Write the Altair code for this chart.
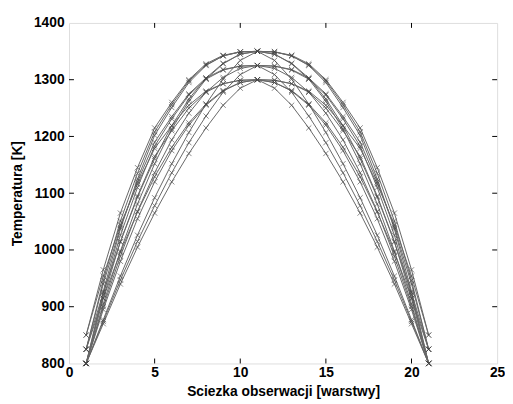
import altair as alt
import pandas as pd

x_positions = list(range(1, 22))

# Temperature profiles [K] along observation path (layers 1..21)
series = {
    "s01": [850, 965, 1065, 1145, 1215, 1260, 1300, 1328, 1343, 1349, 1350, 1349, 1343, 1328, 1300, 1260, 1215, 1145, 1065, 965, 850],
    "s02": [825, 946, 1051, 1135, 1208, 1256, 1298, 1326, 1342, 1349, 1350, 1349, 1342, 1326, 1298, 1256, 1208, 1135, 1051, 946, 825],
    "s03": [800, 905, 998, 1081, 1152, 1213, 1262, 1301, 1328, 1345, 1350, 1345, 1328, 1301, 1262, 1213, 1152, 1081, 998, 905, 800],
    "s04": [800, 877, 954, 1026, 1092, 1152, 1207, 1257, 1301, 1334, 1350, 1334, 1301, 1257, 1207, 1152, 1092, 1026, 954, 877, 800],
    "s05": [825, 940, 1040, 1120, 1190, 1235, 1275, 1303, 1318, 1324, 1325, 1324, 1318, 1303, 1275, 1235, 1190, 1120, 1040, 940, 825],
    "s06": [800, 900, 989, 1068, 1136, 1194, 1241, 1278, 1304, 1320, 1325, 1320, 1304, 1278, 1241, 1194, 1136, 1068, 989, 900, 800],
    "s07": [800, 874, 947, 1015, 1078, 1136, 1189, 1236, 1278, 1309, 1325, 1309, 1278, 1236, 1189, 1136, 1078, 1015, 947, 874, 800],
    "s08": [850, 954, 1044, 1116, 1179, 1219, 1255, 1280, 1293, 1299, 1300, 1299, 1293, 1280, 1255, 1219, 1179, 1116, 1044, 954, 850],
    "s09": [800, 895, 980, 1055, 1120, 1175, 1220, 1255, 1280, 1295, 1300, 1295, 1280, 1255, 1220, 1175, 1120, 1055, 980, 895, 800],
    "s10": [800, 870, 940, 1005, 1065, 1120, 1170, 1215, 1255, 1285, 1300, 1285, 1255, 1215, 1170, 1120, 1065, 1005, 940, 870, 800],
    "s11": [825, 925, 1014, 1093, 1161, 1219, 1266, 1303, 1329, 1345, 1350, 1345, 1329, 1303, 1266, 1219, 1161, 1093, 1014, 925, 825],
    "s12": [800, 927, 1037, 1125, 1202, 1251, 1295, 1325, 1342, 1349, 1350, 1349, 1342, 1325, 1295, 1251, 1202, 1125, 1037, 927, 800],
    "s13": [800, 915, 1015, 1095, 1165, 1210, 1250, 1278, 1293, 1299, 1300, 1299, 1293, 1278, 1250, 1210, 1165, 1095, 1015, 915, 800],
    "s14": [825, 915, 996, 1067, 1129, 1181, 1224, 1257, 1281, 1295, 1300, 1295, 1281, 1257, 1224, 1181, 1129, 1067, 996, 915, 825],
    "s15": [800, 921, 1026, 1110, 1183, 1231, 1273, 1301, 1317, 1324, 1325, 1324, 1317, 1301, 1273, 1231, 1183, 1110, 1026, 921, 800],
}

x_ticks = [0, 5, 10, 15, 20, 25]
y_ticks = [800, 900, 1000, 1100, 1200, 1300, 1400]

rows = []
for name, vals in series.items():
    for xv, yv in zip(x_positions, vals):
        rows.append({"series": name, "x": xv, "y": yv})
df = pd.DataFrame(rows)

W, H = 435, 346
FONT = "Liberation Sans"
FS = 14

xs = alt.Scale(domain=[0, 25], nice=False)
ys = alt.Scale(domain=[800, 1400], nice=False)

xenc = alt.X("x:Q", scale=xs,
             axis=alt.Axis(values=x_ticks, title="Sciezka obserwacji [warstwy]", format="d",
                           tickSize=0, labelPadding=2, domain=False, grid=False,
                           labelFont=FONT, labelFontSize=FS, labelFontWeight="bold", labelColor="#000",
                           titleFont=FONT, titleFontSize=FS, titleFontWeight="bold", titleColor="#000",
                           titlePadding=6, labelFlush=False))
yenc = alt.Y("y:Q", scale=ys,
             axis=alt.Axis(values=y_ticks, title="Temperatura [K]", format="d",
                           tickSize=0, labelPadding=5, domain=False, grid=False,
                           labelFont=FONT, labelFontSize=FS, labelFontWeight="bold", labelColor="#000",
                           titleFont=FONT, titleFontSize=FS, titleFontWeight="bold", titleColor="#000",
                           titlePadding=9, labelFlush=False))

base = alt.Chart(df)
lines = base.mark_line(color="#666666", strokeWidth=1).encode(x=xenc, y=yenc, detail="series:N")
points = base.mark_point(shape="M-1,-1L1,1M-1,1L1,-1", size=28, filled=False,
                         color="#444444", strokeWidth=0.9).encode(x=xenc, y=yenc)

xt = pd.DataFrame({"t": x_ticks[1:-1]})
yt = pd.DataFrame({"t": y_ticks[1:-1]})
tick_col = "#000000"
xt_bot = alt.Chart(xt).mark_rule(color=tick_col, strokeWidth=1).encode(
    x=alt.X("t:Q", scale=xs), y=alt.value(H), y2=alt.value(H - 5))
xt_top = alt.Chart(xt).mark_rule(color=tick_col, strokeWidth=1).encode(
    x=alt.X("t:Q", scale=xs), y=alt.value(0), y2=alt.value(5))
yt_left = alt.Chart(yt).mark_rule(color=tick_col, strokeWidth=1).encode(
    y=alt.Y("t:Q", scale=ys), x=alt.value(0), x2=alt.value(5))
yt_right = alt.Chart(yt).mark_rule(color=tick_col, strokeWidth=1).encode(
    y=alt.Y("t:Q", scale=ys), x=alt.value(W - 5), x2=alt.value(W))

chart = alt.layer(lines, points, xt_bot, xt_top, yt_left, yt_right).properties(
    width=W, height=H,
    autosize=alt.AutoSizeParams(type="none"),
    padding={"left": 62, "top": 12, "right": 8, "bottom": 38},
).configure_view(stroke="#000000", strokeWidth=1).configure(background="white")

chart.save("out.html", embed_options={"renderer": "svg", "actions": False})
